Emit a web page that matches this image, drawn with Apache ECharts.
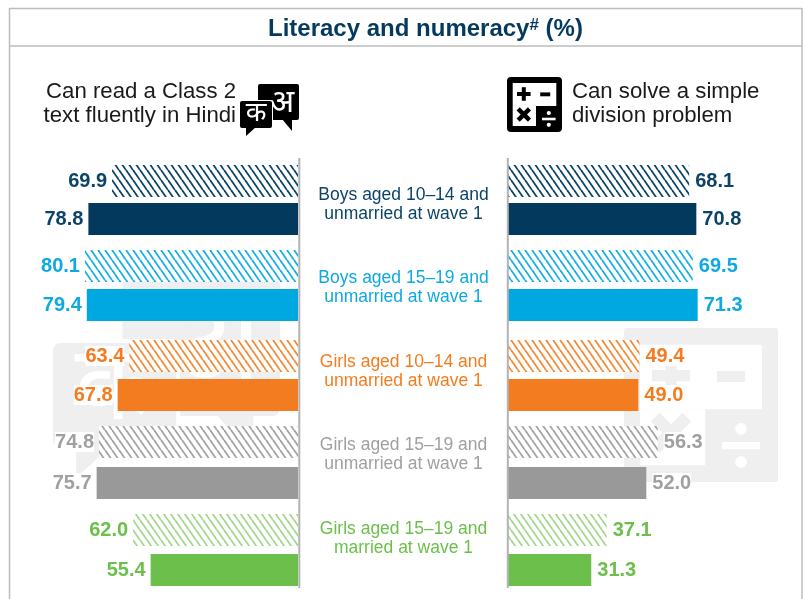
<!DOCTYPE html>
<html>
<head>
<meta charset="utf-8">
<title>Literacy and numeracy</title>
<script src="https://cdn.jsdelivr.net/npm/echarts@6/dist/echarts.min.js"></script>
<style>
  html, body { margin: 0; background: #fff; }
  #chart { width: 806px; height: 599px; }
</style>
</head>
<body>
<div id="chart"></div>
<script>
const groupLabels = [
  ['Boys aged 10–14 and', 'unmarried at wave 1'],
  ['Boys aged 15–19 and', 'unmarried at wave 1'],
  ['Girls aged 10–14 and', 'unmarried at wave 1'],
  ['Girls aged 15–19 and', 'unmarried at wave 1'],
  ['Girls aged 15–19 and', 'married at wave 1'],
]
const readHatched = [69.9, 80.1, 63.4, 74.8, 62.0]
const readSolid = [78.8, 79.4, 67.8, 75.7, 55.4]
const mathHatched = [68.1, 69.5, 49.4, 56.3, 37.1]
const mathSolid = [70.8, 71.3, 49.0, 52.0, 31.3]

const groupColors = ['#03395c', '#00a8e1', '#f47c20', '#999999', '#6cbf4a']
const hatchColors = ['#0b4468', '#18afe4', '#f58a35', '#a3a3a3', '#a3d88c']
const labelColors = ['#0b4468', '#0ea9e2', '#f47c20', '#a0a0a0', '#6cbf4a']

// top of each bar in px, the rows are not evenly spaced in the original
const hatchedTops = [165, 250, 340, 426, 514]
const solidTops = [203, 289, 379, 467, 554]
const midLabelTops = [195, 278, 362, 445, 529]
const barHeight = 32

const FONT = '"Liberation Sans", Arial, sans-serif'
const WATERMARK = '#efefef'

const makeHatch = (color) => {
  const w = 7, h = 10
  const c = document.createElement('canvas')
  c.width = w
  c.height = h
  const ctx = c.getContext('2d')
  ctx.fillStyle = '#fff'
  ctx.fillRect(0, 0, w, h)
  ctx.strokeStyle = color
  ctx.lineWidth = 1.8
  for (let i = -1; i <= 1; i++) {
    ctx.beginPath()
    ctx.moveTo(i * w, 0)
    ctx.lineTo(i * w + w, h)
    ctx.stroke()
  }
  return { image: c, repeat: 'repeat' }
}

const grids = []
const xAxes = []
const yAxes = []
const series = []

const addSide = (side, hatched, solid) => {
  const isLeft = side === 'left'
  hatched.forEach((v, i) => {
    const step = solidTops[i] - hatchedTops[i]
    const idx = grids.length
    grids.push({
      left: isLeft ? 32 : 508,
      width: 266,
      top: hatchedTops[i] + barHeight / 2 - step / 2,
      height: step * 2,
    })
    xAxes.push({ gridIndex: idx, type: 'value', min: 0, max: 100, inverse: isLeft, show: false })
    yAxes.push({ gridIndex: idx, type: 'category', inverse: true, show: false, data: ['Wave 2 hatched', 'Wave 2 solid'] })
    series.push({
      type: 'bar',
      xAxisIndex: idx,
      yAxisIndex: idx,
      barWidth: barHeight,
      silent: true,
      animation: false,
      z: 3,
      label: {
        show: true,
        position: isLeft ? 'left' : 'right',
        distance: isLeft ? 5 : 6,
        formatter: (p) => p.value.toFixed(1),
        fontFamily: FONT,
        fontWeight: 'bold',
        fontSize: 20,
        color: labelColors[i],
        backgroundColor: '#fff',
      },
      data: [
        { value: v, itemStyle: { color: makeHatch(hatchColors[i]) } },
        { value: solid[i], itemStyle: { color: groupColors[i] } },
      ],
    })
  })
}

addSide('left', readHatched, readSolid)
addSide('right', mathHatched, mathSolid)

const bubbleIcon = (x, y, scale, fill, z) => ({
  type: 'group', x, y, scaleX: scale, scaleY: scale,
  children: [
    { type: 'rect', z, shape: { x: 18, y: 0, width: 41, height: 36, r: 2 }, style: { fill } },
    { type: 'polygon', z, shape: { points: [[42, 35], [52, 47], [52, 35]] }, style: { fill } },
    { type: 'text', z: z + 1, x: 42, y: 19, style: { text: 'अ', fill: '#fff', fontSize: 32, fontFamily: '"Noto Sans", sans-serif', align: 'center', verticalAlign: 'middle' } },
    { type: 'rect', z: z + 2, shape: { x: -1, y: 16, width: 34, height: 29, r: 2 }, style: { fill: '#fff' } },
    { type: 'rect', z: z + 2, shape: { x: 0, y: 17, width: 32, height: 27, r: 2 }, style: { fill } },
    { type: 'polygon', z: z + 2, shape: { points: [[6, 43], [6, 52], [16, 43]] }, style: { fill } },
    { type: 'text', z: z + 3, x: 16, y: 29, style: { text: 'क', fill: '#fff', fontSize: 27, fontFamily: '"Noto Sans", sans-serif', align: 'center', verticalAlign: 'middle' } },
  ],
})

const calcIcon = (x, y, scale, fill, z, r) => {
  const rect = (rx, ry, w, h, color, zz) => ({ type: 'rect', z: zz, shape: { x: rx, y: ry, width: w, height: h }, style: { fill: color } })
  return {
    type: 'group', x, y, scaleX: scale, scaleY: scale,
    children: [
      { type: 'rect', z, shape: { x: 0, y: 0, width: 55, height: 55, r }, style: { fill } },
      rect(5.7, 6, 43.6, 23, '#fff', z + 1),
      rect(5.7, 29, 23.3, 20, '#fff', z + 1),
      // plus
      rect(10, 15, 13.6, 4, fill, z + 2),
      rect(14.8, 10.2, 4, 13.6, fill, z + 2),
      // minus
      rect(33.2, 15.4, 10, 3.9, fill, z + 2),
      // times
      { type: 'rect', z: z + 2, originX: 16.8, originY: 37.5, rotation: Math.PI / 4, shape: { x: 8.8, y: 35.3, width: 16, height: 4.4 }, style: { fill } },
      { type: 'rect', z: z + 2, originX: 16.8, originY: 37.5, rotation: -Math.PI / 4, shape: { x: 8.8, y: 35.3, width: 16, height: 4.4 }, style: { fill } },
      // divide, knocked out of the dark corner
      rect(35, 40.7, 13.6, 2.6, '#fff', z + 2),
      { type: 'circle', z: z + 2, shape: { cx: 41.8, cy: 36, r: 2.1 }, style: { fill: '#fff' } },
      { type: 'circle', z: z + 2, shape: { cx: 41.8, cy: 47.8, r: 2.1 }, style: { fill: '#fff' } },
    ],
  }
}

const headText = (x, y, text, align) => ({
  type: 'text', z: 5, x, y,
  style: { text, fill: '#1a1a1a', fontFamily: FONT, fontSize: 22.2, align, verticalAlign: 'middle' },
})

const midLabels = groupLabels.flatMap((lines, i) => lines.map((text, j) => ({
  type: 'text', z: 5, x: 403.5, y: midLabelTops[i] + j * 19,
  style: { text, fill: labelColors[i], fontFamily: FONT, fontSize: 17.5, align: 'center', verticalAlign: 'middle' },
})))

const frameLine = (x1, y1, x2, y2, stroke, lineWidth) => ({
  type: 'line', z: 4, shape: { x1, y1, x2, y2 }, style: { stroke, lineWidth },
})

const chart = echarts.init(document.getElementById('chart'), null, { renderer: 'canvas' })
chart.setOption({
  animation: false,
  backgroundColor: '#fff',
  title: {
    text: '{t|Literacy and numeracy}{s|#}{t| (%)}',
    left: 268,
    top: 17,
    padding: 0,
    textStyle: {
      rich: {
        t: { fontFamily: FONT, fontWeight: 'bold', fontSize: 24, color: '#053a5e' },
        s: { fontFamily: FONT, fontWeight: 'bold', fontSize: 17, color: '#053a5e', verticalAlign: 'top', padding: [0, 0, 8, 0] },
      },
    },
  },
  grid: grids,
  xAxis: xAxes,
  yAxis: yAxes,
  series,
  graphic: {
    elements: [
      bubbleIcon(53, 277.5, 3.85, WATERMARK, 0),
      calcIcon(624, 328, 2.8, WATERMARK, 0, 1),
      frameLine(9.5, 8.5, 802, 8.5, '#bdbdbd', 1.5),
      frameLine(9.5, 8, 9.5, 599, '#bdbdbd', 1.5),
      frameLine(802, 8, 802, 599, '#bdbdbd', 1.5),
      frameLine(9.5, 46, 802, 46, '#bdbdbd', 1.5),
      frameLine(299.3, 158, 299.3, 588, '#b3b3b3', 2),
      frameLine(507.8, 158, 507.8, 588, '#b3b3b3', 2),
      headText(236, 92, 'Can read a Class 2', 'right'),
      headText(236, 116, 'text fluently in Hindi', 'right'),
      headText(572, 92, 'Can solve a simple', 'left'),
      headText(572, 116, 'division problem', 'left'),
      bubbleIcon(240, 84, 1, '#000', 6),
      calcIcon(507, 77, 1, '#000', 6, 4),
      ...midLabels,
    ],
  },
})
</script>
</body>
</html>
